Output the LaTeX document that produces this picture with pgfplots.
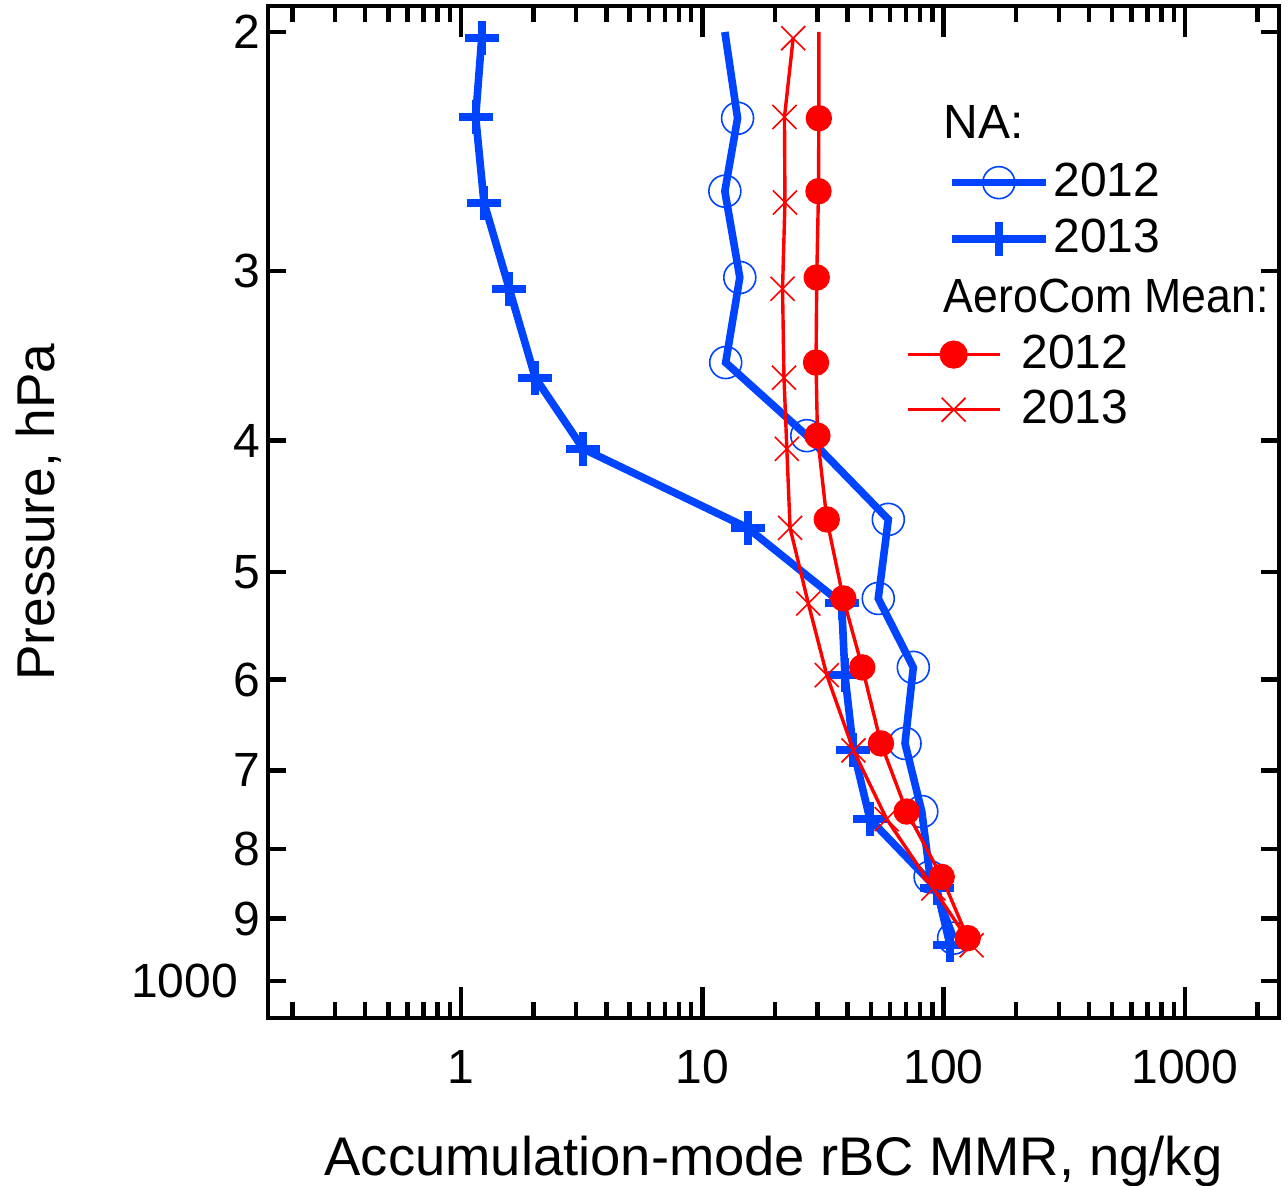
\documentclass[border=0pt]{standalone}
\usepackage{fontspec}
\setmainfont{Liberation Sans}
\usepackage{pgfplots}
\pgfplotsset{compat=1.18}
\definecolor{nablue}{RGB}{0,68,255}
\definecolor{acred}{RGB}{255,0,0}
\begin{document}
\begin{tikzpicture}
\begin{axis}[
  scale only axis, width=252.75pt, height=253pt,
  xmode=log, ymode=log, y dir=reverse,
  xmin=0.1585, xmax=2455, ymin=191.4, ymax=1065.3,
  /pgf/number format/assume math mode=true,
  axis line style={line width=1pt, black},
  tick align=inside,
  tick style={line width=1.1pt, black},
  major tick length=4.4pt, minor tick length=4pt,
  xtick style={/pgfplots/major tick length=7.75pt},
  xtick={1,10,100,1000}, xticklabels={1,10,100,1000},
  minor xtick={0.2,0.3,0.4,0.5,0.6,0.7,0.8,0.9,2,3,4,5,6,7,8,9,20,30,40,50,60,70,80,90,200,300,400,500,600,700,800,900,2000},
  ytick={200,300,400,500,600,700,800,900,1000},
  yticklabels={2,3,4,5,6,7,8,9,{1000\kern5.5pt}},
  minor ytick={},
  xticklabel style={font=\fontsize{12}{14}\selectfont, yshift=-4.5pt},
  yticklabel style={font=\fontsize{12}{14}\selectfont, xshift=1.5pt},
  xlabel={Accumulation-mode rBC MMR, ng/kg},
  ylabel={Pressure, hPa},
  every axis x label/.style={at={(axis description cs:0.5,-0.1551)}, anchor=base, font=\fontsize{13.6}{16}\selectfont},
  every axis y label/.style={at={(axis description cs:-0.2107,0.5)}, rotate=90, anchor=base, font=\fontsize{13.3}{16}\selectfont},
  legend image code/.code={\draw[mark repeat=2,mark phase=2,#1] plot coordinates {(0pt,0pt) (11.75pt,0pt) (23.5pt,0pt)};},
  legend style={draw=none, fill=none, inner sep=0pt, outer sep=0pt,
    at={(axis description cs:0.6726,0.845)}, anchor=north west,
    nodes={inner sep=0pt, font=\fontsize{12}{14}\selectfont},
    column sep=1pt, row sep=4.15pt},
  legend cell align=left,
]
\addplot[nablue, line width=1.9pt, forget plot] coordinates {
(12.4,200) (14.0,231.5) (12.4,262) (14.3,303.3) (12.5,350.4) (27.1,396.7) (59.0,457.2) (53.6,522.8) (74.9,587.7) (69.2,668.6) (81.2,750.5) (87.9,838.5) (110,930.3)};
\addplot[nablue, only marks, mark=o, mark size=4pt, mark options={line width=0.4pt}, forget plot] coordinates {
(14.0,231.5) (12.4,262) (14.3,303.3) (12.5,350.4) (27.1,396.7) (59.0,457.2) (53.6,522.8) (74.9,587.7) (69.2,668.6) (81.2,750.5) (87.9,838.5) (110,930.3)};
\addplot[nablue, line width=1.9pt, mark=+, mark size=4.25pt, mark options={line width=2pt}, forget plot] coordinates {
(1.218,202.1) (1.15,231) (1.245,267.1) (1.585,309.2) (2.03,359.5) (3.21,405.6) (15.4,463.8) (37.8,527.3) (39.0,595.5) (42.3,676.6) (49.5,760.3) (93.6,855.1) (106.3,941.6)};
\addlegendimage{nablue, line width=1.9pt, mark=o, mark size=4pt, mark options={line width=0.4pt}}
\addlegendentry{2012}
\addlegendimage{nablue, line width=1.9pt, mark=+, mark size=4.25pt, mark options={line width=2pt}}
\addlegendentry{2013}
\node[anchor=west, inner sep=0pt, font=\fontsize{12}{14}\selectfont] at (axis description cs:0.6677,0.8854) {NA:};
\node[anchor=west, inner sep=0pt, xscale=0.93, font=\fontsize{12}{14}\selectfont] at (axis description cs:0.6677,0.7134) {AeroCom Mean:};
\end{axis}
\begin{axis}[
  scale only axis, width=252.75pt, height=253pt,
  xmode=log, ymode=log, y dir=reverse,
  xmin=0.1585, xmax=2455, ymin=191.4, ymax=1065.3,
  hide axis,
  legend image code/.code={\draw[mark repeat=2,mark phase=2,#1] plot coordinates {(0pt,0pt) (11.5pt,0pt) (23pt,0pt)};},
  legend style={draw=none, fill=none, inner sep=0pt, outer sep=0pt,
    at={(axis description cs:0.631,0.6751)}, anchor=north west,
    nodes={inner sep=0pt, font=\fontsize{12}{14}\selectfont},
    column sep=5pt, row sep=3.9pt},
  legend cell align=left,
]
\addplot[acred, line width=0.85pt, forget plot] coordinates {
(30.4,200) (30.4,231.5) (30.3,262) (29.8,303.3) (29.6,350.4) (30.0,396.7) (32.8,457.2) (38.4,522.8) (46.0,587.7) (55.0,668.6) (70.3,750.5) (98.2,838.5) (125.9,930.3)};
\addplot[acred, only marks, mark=*, mark size=3.1pt, forget plot] coordinates {
(30.4,231.5) (30.3,262) (29.8,303.3) (29.6,350.4) (30.0,396.7) (32.8,457.2) (38.4,522.8) (46.0,587.7) (55.0,668.6) (70.3,750.5) (98.2,838.5) (125.9,930.3)};
\addplot[acred, line width=0.85pt, mark=x, mark size=4.25pt, mark options={line width=0.4pt}, forget plot] coordinates {
(23.8,202.1) (21.9,231) (22.0,267.1) (21.5,309.2) (21.8,359.5) (22.4,405.6) (23.1,463.8) (27.5,527.3) (32.8,595.5) (42.3,676.6) (58.1,760.3) (90.7,855.1) (130.6,941.6)};
\addlegendimage{acred, line width=0.85pt, mark=*, mark size=3.1pt}
\addlegendentry{2012}
\addlegendimage{acred, line width=0.85pt, mark=x, mark size=4.25pt, mark options={line width=0.4pt}}
\addlegendentry{2013}
\end{axis}
\pgfresetboundingbox
\useasboundingbox (-67pt,-42pt) rectangle (254.75pt,254.5pt);
\end{tikzpicture}
\end{document}
